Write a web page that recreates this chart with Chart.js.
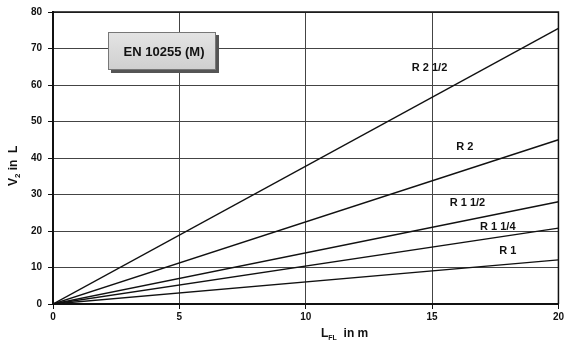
<!DOCTYPE html>
<html>
<head>
<meta charset="utf-8">
<script src="https://cdn.jsdelivr.net/npm/chart.js@4"></script>
<style>
  html, body { margin: 0; padding: 0; background: #fff; }
  #wrap { width: 566px; height: 344px; position: relative; }
</style>
</head>
<body>
<div id="wrap"><canvas id="pipeChart"></canvas></div>
<script>
// pipe sizes and volume at 20 m flow length (volume grows linearly from 0)
var pipeNames = ['R 2 1/2', 'R 2', 'R 1 1/2', 'R 1 1/4', 'R 1'];
var lengthStart = 0;
var lengthEnd = 20;
var volumeAtEnd = [75.5, 45.0, 28.0, 20.8, 12.1];
// where the pipe labels sit (in data units)
var labelX = [14.9, 16.3, 16.4, 17.6, 18.0];
var labelY = [64.7, 43.0, 27.8, 21.0, 14.5];
var boxTitle = 'EN 10255 (M)';

var fontFam = '"Liberation Sans", Arial, sans-serif';

var datasets = pipeNames.map(function(name, i) {
    return {
        label: name,
        data: [{ x: lengthStart, y: 0 }, { x: lengthEnd, y: volumeAtEnd[i] }],
        borderColor: '#111',
        borderWidth: 1.4,
        pointRadius: 0,
        fill: false
    };
});

// labels, title box, axis titles with subscripts
var extras = {
    id: 'extras',
    afterDatasetsDraw: function(chart) {
        var ctx = chart.ctx;
        var xs = chart.scales.x, ys = chart.scales.y;
        var a = chart.chartArea;
        ctx.save();

        // frame on top and right
        ctx.strokeStyle = '#111';
        ctx.lineWidth = 1.5;
        ctx.beginPath();
        ctx.moveTo(a.left, a.top);
        ctx.lineTo(a.right, a.top);
        ctx.lineTo(a.right, a.bottom);
        ctx.stroke();

        // pipe labels
        ctx.fillStyle = '#111';
        ctx.font = 'bold 11px ' + fontFam;
        ctx.textAlign = 'center';
        ctx.textBaseline = 'middle';
        pipeNames.forEach(function(name, i) {
            ctx.fillText(name, xs.getPixelForValue(labelX[i]), ys.getPixelForValue(labelY[i]));
        });

        // title box with shadow
        var bx = 108, by = 32, bw = 108, bh = 38;
        ctx.fillStyle = '#555';
        ctx.fillRect(bx + 3, by + 3, bw, bh);
        var g = ctx.createLinearGradient(0, by, 0, by + bh);
        g.addColorStop(0, '#e4e4e4');
        g.addColorStop(1, '#cfcfcf');
        ctx.fillStyle = g;
        ctx.fillRect(bx, by, bw, bh);
        ctx.strokeStyle = '#777';
        ctx.lineWidth = 1;
        ctx.strokeRect(bx + 0.5, by + 0.5, bw - 1, bh - 1);
        ctx.fillStyle = '#111';
        ctx.font = 'bold 13px ' + fontFam;
        ctx.textAlign = 'center';
        ctx.fillText(boxTitle, bx + bw / 2 + 2, by + bh / 2 + 1);

        // x axis title: L_FL in m
        ctx.textAlign = 'left';
        ctx.textBaseline = 'alphabetic';
        var tx = 321, ty = 337;
        ctx.font = 'bold 12px ' + fontFam;
        ctx.fillText('L', tx, ty);
        var w = ctx.measureText('L').width;
        ctx.font = 'bold 7px ' + fontFam;
        ctx.fillText('FL', tx + w, ty + 3);
        var w2 = ctx.measureText('FL').width;
        ctx.font = 'bold 12px ' + fontFam;
        ctx.fillText('  in m', tx + w + w2, ty);

        // y axis title: V_2 in L (rotated)
        ctx.translate(17, 186);
        ctx.rotate(-Math.PI / 2);
        ctx.font = 'bold 12px ' + fontFam;
        ctx.fillText('V', 0, 0);
        var v = ctx.measureText('V').width;
        ctx.font = 'bold 8px ' + fontFam;
        ctx.fillText('2', v, 3);
        var v2 = ctx.measureText('2').width;
        ctx.font = 'bold 12px ' + fontFam;
        ctx.fillText(' in  L', v + v2, 0);

        ctx.restore();
    }
};

var ctx = document.getElementById('pipeChart').getContext('2d');
new Chart(ctx, {
    type: 'line',
    data: { datasets: datasets },
    options: {
        responsive: true,
        maintainAspectRatio: false,
        animation: false,
        layout: { padding: { top: 7, right: 6, left: 0, bottom: 0 } },
        plugins: {
            legend: { display: false },
            tooltip: { enabled: false }
        },
        scales: {
            x: {
                type: 'linear',
                min: 0,
                max: 20,
                afterFit: function(s) { s.height = 40; },
                ticks: {
                    stepSize: 5,
                    color: '#111',
                    font: { family: fontFam, size: 10, weight: 'bold' },
                    padding: 2
                },
                grid: { color: '#444', lineWidth: 1, tickLength: 5, tickColor: '#111' },
                border: { color: '#111', width: 2 }
            },
            y: {
                min: 0,
                max: 80,
                afterFit: function(s) { s.width = 53; },
                ticks: {
                    stepSize: 10,
                    color: '#111',
                    font: { family: fontFam, size: 10, weight: 'bold' },
                    padding: 6
                },
                grid: { color: '#444', lineWidth: 1, tickLength: 5, tickColor: '#111' },
                border: { color: '#111', width: 2 }
            }
        }
    },
    plugins: [extras]
});
</script>
</body>
</html>
